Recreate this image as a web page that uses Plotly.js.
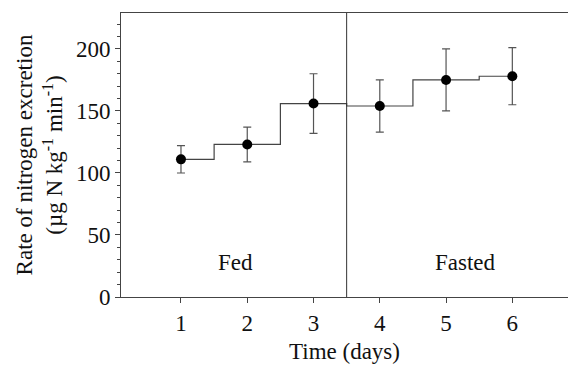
<!DOCTYPE html>
<html><head><meta charset="utf-8">
<script src="https://cdn.plot.ly/plotly-3.0.1.min.js"></script>
<style>html,body{margin:0;padding:0;background:#fff}#chart{width:568px;height:369px}</style>
</head><body><div id="chart"></div>
<script>
var days = [1, 2, 3, 4, 5, 6];
var rate = [111, 123, 156, 154, 175, 178];
var sem = [11, 14, 24, 21, 25, 23];
var phaseLabels = ["Fed", "Fasted"];
var phaseX = [1.82, 5.29];
var phaseY = [28, 28];
var boundary = 3.5;

var font = "'Liberation Serif', 'Times New Roman', serif";
var traces = [
  {x: days, y: rate, mode: "lines", line: {shape: "hvh", color: "#444", width: 1.2}, hoverinfo: "skip", showlegend: false},
  {x: days, y: rate, mode: "markers", marker: {color: "#000", size: 10},
   error_y: {type: "data", array: sem, visible: true, color: "#555", thickness: 1.2, width: 4},
   showlegend: false}
];
var layout = {
  width: 568, height: 369,
  margin: {l: 121, r: 0, t: 13, b: 72},
  paper_bgcolor: "#fff", plot_bgcolor: "#fff",
  font: {family: font, size: 23, color: "#111"},
  xaxis: {range: [0.095, 6.84], tickvals: days, ticks: "outside", ticklen: 5, tickcolor: "#444",
    tickfont: {size: 23},
    showline: true, linecolor: "#444", linewidth: 1, mirror: true, showgrid: false, zeroline: false,
    title: {text: "Time (days)", font: {size: 23}, standoff: 8}, automargin: false},
  yaxis: {range: [0, 229], tickvals: [0, 50, 100, 150, 200], ticks: "outside", ticklen: 5, tickcolor: "#444",
    tickfont: {size: 23},
    minor: {dtick: 10, ticks: "outside", ticklen: 3, tickcolor: "#444", showgrid: false},
    showline: true, linecolor: "#444", linewidth: 1, showgrid: false, zeroline: false,
    title: {text: "Rate of nitrogen excretion<br>(µg N kg<sup>-1</sup> min<sup>-1</sup>)", font: {size: 23}, standoff: 6}, automargin: false},
  shapes: [{type: "line", xref: "x", yref: "paper", x0: boundary, x1: boundary, y0: 0, y1: 1, line: {color: "#333", width: 1}}],
  annotations: phaseLabels.map(function(t, i){return {x: phaseX[i], y: phaseY[i], xref: "x", yref: "y", text: t, showarrow: false, font: {size: 23}};})
};
Plotly.newPlot("chart", traces, layout, {displayModeBar: false, staticPlot: true});
</script></body></html>
